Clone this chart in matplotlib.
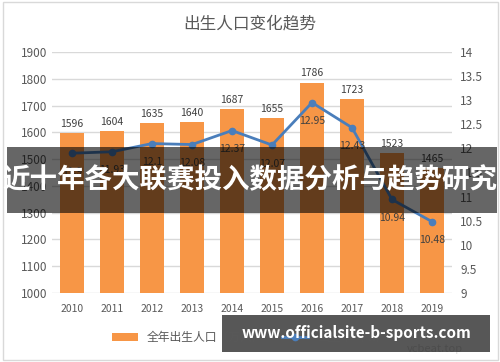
import matplotlib.pyplot as plt
import matplotlib.patches as mpatches
import numpy as np

plt.rcParams['font.family'] = ['Noto Sans CJK SC', 'DejaVu Sans']

# 数据
years = ['2010', '2011', '2012', '2013', '2014', '2015', '2016', '2017', '2018', '2019']
births = [1596, 1604, 1635, 1640, 1687, 1655, 1786, 1723, 1523, 1465]
birth_rate = [11.9, 11.93, 12.1, 12.08, 12.37, 12.07, 12.95, 12.43, 10.94, 10.48]
rate_labels = ['11.9', '11.93', '12.1', '12.08', '12.37', '12.07', '12.95', '12.43', '10.94', '10.48']

bar_color = '#F79646'
line_color = '#4A7EBB'
text_color = '#595959'
grid_color = '#D9D9D9'

fig = plt.figure(figsize=(5, 3.62), dpi=100)
ax = fig.add_axes([0.104, 0.1906, 0.8, 0.6658])
ax2 = ax.twinx()

x = np.arange(len(years))
ax.bar(x, births, width=0.58, color=bar_color, zorder=2, label='全年出生人口（万人）')
for xi, v in zip(x, births):
    ax.text(xi, v + 15, str(v), ha='center', va='bottom', fontsize=7.5, color='#404040')

ax.set_ylim(1000, 1900)
ax.set_yticks(range(1000, 2000, 100))
ax.set_xlim(-0.5, len(years) - 0.5)
ax.set_xticks(x)
ax.set_xticklabels(years)
ax.yaxis.grid(True, color=grid_color, linewidth=1, zorder=0)
ax.set_axisbelow(True)
for s in ax.spines.values():
    s.set_visible(False)
for s in ax2.spines.values():
    s.set_visible(False)
ax.tick_params(axis='both', length=0, colors=text_color, labelsize=8.5)
ax.tick_params(axis='x', pad=8, labelsize=7.5)

ax2.plot(x, birth_rate, color=line_color, linewidth=2, marker='o', markersize=4.5, label='出生率（‰）')
for xi, v, lab in zip(x, birth_rate, rate_labels):
    ax2.text(xi, v - 0.28, lab, ha='center', va='top', fontsize=7.5, color='#404040')
ax2.set_ylim(9, 14)
ax2.set_yticks([9, 9.5, 10, 10.5, 11, 11.5, 12, 12.5, 13, 13.5, 14])
ax2.set_yticklabels(['9', '9.5', '10', '10.5', '11', '11.5', '12', '12.5', '13', '13.5', '14'])
ax2.tick_params(axis='y', length=0, colors=text_color, labelsize=8.5, pad=6)

fig.text(0.5, 0.935, '出生人口变化趋势', ha='center', va='center', fontsize=12, color=text_color)

h1, l1 = ax.get_legend_handles_labels()
h2, l2 = ax2.get_legend_handles_labels()
fig.legend(h1 + h2, l1 + l2, loc='center', bbox_to_anchor=(0.5, 0.068), ncol=2,
           frameon=False, fontsize=8.5, labelcolor=text_color, handlelength=2.2, columnspacing=1.5)

# 外框
fig.patches.append(mpatches.Rectangle((0.005, 0.006), 0.99, 0.988, transform=fig.transFigure,
                                      fill=False, edgecolor='#D9D9D9', linewidth=1))

# 中间横幅
fig.patches.append(mpatches.Rectangle((0.014, 0.412), 0.98, 0.182, transform=fig.transFigure,
                                      facecolor='black', alpha=0.6, edgecolor='none', zorder=5))
fig.text(0.5, 0.503, '近十年各大联赛投入数据分析与趋势研究', ha='center', va='center',
         fontsize=19.8, fontweight='bold', color='white', zorder=6)

# 水印
fig.text(0.87, 0.035, 'vcbeat.top', ha='center', va='center', fontsize=8, color='#E0E0E0', zorder=1)
fig.patches.append(mpatches.Rectangle((0.444, 0.028), 0.536, 0.102, transform=fig.transFigure,
                                      facecolor='black', alpha=0.66, edgecolor='none', zorder=5))
fig.text(0.712, 0.079, 'www.officialsite-b-sports.com', ha='center', va='center',
         fontsize=11, fontweight='bold', color='white', zorder=6)

fig.savefig('out.png', dpi=100)
